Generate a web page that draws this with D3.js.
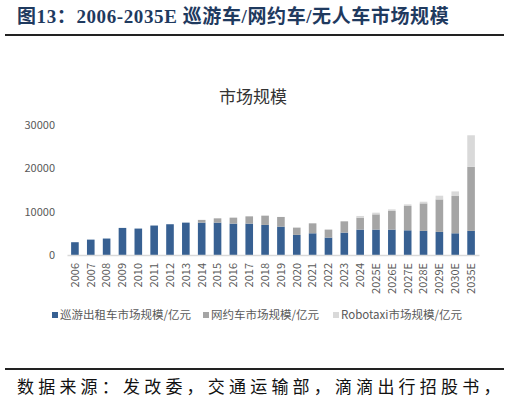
<!DOCTYPE html>
<html>
<head>
<meta charset="utf-8">
<script src="https://cdn.jsdelivr.net/npm/d3@7"></script>
<style>
  body { margin: 0; background: #fff; }
  svg { display: block; }
</style>
</head>
<body>
<script>
// chart values
const years = ["2006","2007","2008","2009","2010","2011","2012","2013","2014","2015","2016","2017","2018","2019","2020","2021","2022","2023","2024","2025E","2026E","2027E","2028E","2029E","2030E","2035E"];
const taxi = [2950,3550,3800,6250,6100,6800,7100,7470,7470,7470,7240,7240,6940,6550,4640,5010,4020,5170,5860,5860,5860,5700,5560,5330,5010,5560];
const ridehail = [0,0,0,0,0,0,0,0,630,990,1380,1680,2140,2230,1680,2300,1840,2600,2760,3520,4300,5610,6350,7500,8600,14780];
const robotaxi = [0,0,0,0,0,0,0,0,0,0,0,0,0,0,0,0,0,0,390,390,370,370,390,850,1060,7290];
const seriesNames = ["巡游出租车市场规模/亿元", "网约车市场规模/亿元", "Robotaxi市场规模/亿元"];
const yTicks = [0, 10000, 20000, 30000];

const width = 509, height = 401;
const colors = ["#376092", "#A5A5A5", "#D9D9D9"];
const sans = "'Noto Sans CJK SC', 'Noto Sans', sans-serif";

const svg = d3.select("body").append("svg")
  .attr("width", width)
  .attr("height", height)
  .attr("viewBox", [0, 0, width, height]);

svg.append("rect").attr("width", width).attr("height", height).attr("fill", "#fff");

// report header
svg.append("text")
  .attr("x", 17).attr("y", 23)
  .attr("fill", "#1F3A5F")
  .style("font", "bold 19px 'Liberation Serif', 'Noto Sans CJK SC', serif")
  .style("letter-spacing", "0.6px")
  .text("图13：2006-2035E 巡游车/网约车/无人车市场规模");

svg.append("line")
  .attr("x1", 5).attr("x2", 504).attr("y1", 35).attr("y2", 35)
  .attr("stroke", "#222").attr("stroke-width", 2);

// chart title
svg.append("text")
  .attr("x", 253).attr("y", 103)
  .attr("text-anchor", "middle")
  .attr("fill", "#333")
  .style("font", "17px " + sans)
  .text("市场规模");

const x = d3.scaleBand()
  .domain(years)
  .range([67, 479])
  .paddingInner(0.52)
  .paddingOuter(0.26);

const y = d3.scaleLinear()
  .domain([0, 30000])
  .range([255, 125]);

const table = years.map((yr, i) => ({ year: yr, a: taxi[i], b: ridehail[i], c: robotaxi[i] }));
const stacked = d3.stack().keys(["a", "b", "c"])(table);

svg.append("g")
  .selectAll("g")
  .data(stacked)
  .enter()
  .append("g")
  .attr("fill", (d, i) => colors[i])
  .selectAll("rect")
  .data(d => d)
  .enter()
  .append("rect")
  .attr("x", d => x(d.data.year))
  .attr("width", x.bandwidth())
  .attr("y", d => y(d[1]))
  .attr("height", d => y(d[0]) - y(d[1]));

// y axis labels
const yAxis = svg.append("g")
  .attr("transform", "translate(55,0)")
  .call(d3.axisLeft(y).tickValues(yTicks).tickSize(0).tickPadding(0).tickFormat(d3.format("d")));
yAxis.select(".domain").remove();
yAxis.selectAll("text")
  .attr("fill", "#595959")
  .style("font", "11px " + sans);

// x axis
const xAxis = svg.append("g")
  .attr("transform", "translate(0,255)")
  .call(d3.axisBottom(x).tickSize(0).tickPadding(0));
xAxis.select(".domain")
  .attr("stroke", "#D9D9D9")
  .attr("stroke-width", 1.5);
xAxis.selectAll("text")
  .attr("fill", "#595959")
  .style("font", "11px " + sans)
  .attr("text-anchor", "end")
  .attr("dy", "0.35em")
  .attr("transform", "translate(0,8) rotate(-90)");

// legend
const legendX = [52, 203, 333];
const legend = svg.append("g")
  .selectAll("g")
  .data(seriesNames)
  .enter()
  .append("g")
  .attr("transform", (d, i) => `translate(${legendX[i]},312)`);
legend.append("rect")
  .attr("width", 6).attr("height", 6)
  .attr("fill", (d, i) => colors[i]);
legend.append("text")
  .attr("x", 8).attr("y", 3)
  .attr("dy", "0.38em")
  .attr("fill", "#595959")
  .style("font", "11.5px " + sans)
  .text(d => d);

// source
svg.append("line")
  .attr("x1", 5).attr("x2", 504).attr("y1", 369).attr("y2", 369)
  .attr("stroke", "#222").attr("stroke-width", 2);

svg.append("text")
  .attr("x", 17).attr("y", 393)
  .attr("fill", "#111")
  .style("font", "17px 'Noto Sans CJK SC', serif")
  .style("letter-spacing", "4.2px")
  .text("数据来源：发改委，交通运输部，滴滴出行招股书，");
</script>
</body>
</html>
